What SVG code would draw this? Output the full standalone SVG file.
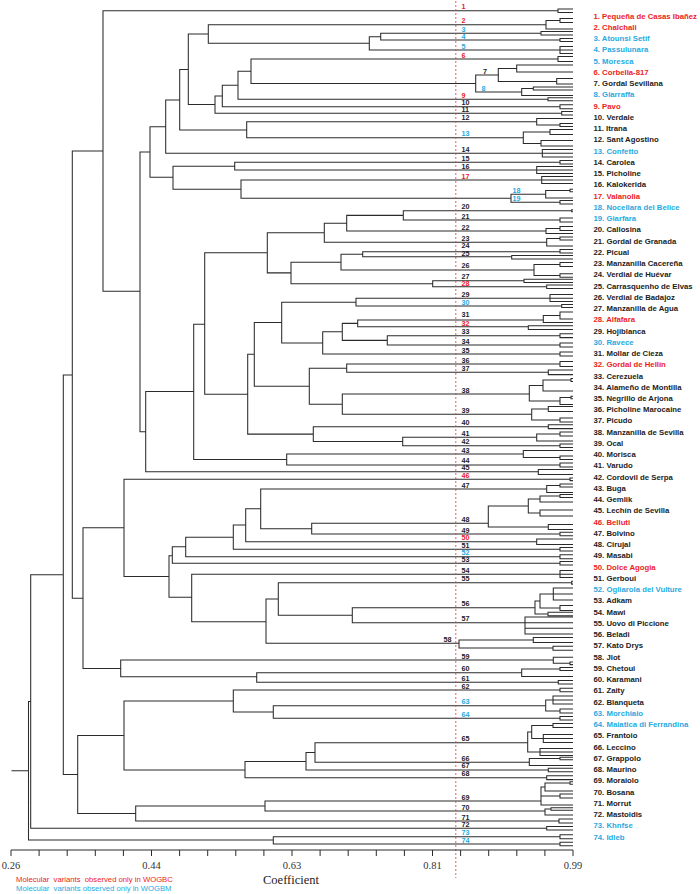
<svg xmlns="http://www.w3.org/2000/svg" width="700" height="894" viewBox="0 0 700 894">
<style>
.t{fill:none;stroke:#2b2b2b;stroke-width:1.05}
.ax{fill:none;stroke:#2b2b2b;stroke-width:1}
.cut{fill:none;stroke:#e8333a;stroke-width:0.8;stroke-dasharray:2 2}
text{font-family:"Liberation Sans",Arial,sans-serif}
.n{font-size:7.2px;font-weight:bold}
.l{font-size:7.75px;font-weight:bold}
.k{fill:#1c1c1c}
.r{fill:#ec1c24}
.b{fill:#27aae1}
.tk{font-family:"Liberation Serif","Times New Roman",serif;font-size:10.5px;fill:#333;text-anchor:middle}
.co{font-family:"Liberation Serif","Times New Roman",serif;font-size:12.5px;fill:#222;text-anchor:middle}
.lg{font-size:7.7px;white-space:pre}
</style>
<rect width="700" height="894" fill="#ffffff"/>
<g id="connectors">
<path class="t" d="M11.5 770.75H28.5M30.7 701.5H28.5V840H273.3M560 836.7H273.3V844H560M63.3 574.75H30.7V828.3H546.7M72.3 375H63.3V774.5H77.7M124 735.5H77.7V813.5H135.7M233.3 701H124V770H245M560 690H233.3V712H273.3M545.7 705.7H273.3V718.3H560M306 761.4H245V777.7H546.7M315 752.5H306V770H548.3M527.7 742.7H315V762.3H529.3M265 806H135.7V821H559M541 801H265V811H545M103 151H72.3V598.3H83M124 527.8H83V668.4H120.7M553.3 660H120.7V676.7H256.7M521.7 672.7H256.7V682.3H558.3M570 479.3H124V576.5H169M172.3 555.7H169V597.3H191.7M185.7 546.7H172.3V563.3H560M233.3 537.3H185.7V556.7H560M245.7 525H233.3V549.3H560M260.7 508.7H245.7V541.7H536.7M546.7 489H260.7V528.7H311.7M488.3 523.3H311.7V534H560M560 574.3H191.7V621.7H266M278.3 599H266V643.3H459M571.7 582.7H278.3V615.2H352.3M535 607.7H352.3V622.7H525M558 10.7H103V291.3H140M150 152H140V431.7H145.7M165.7 126.7H150V177.3H173M179.7 100H165.7V153.3H542.3M188.3 69.5H179.7V130H246.7M208.3 34H188.3V104.5H215M546 24.7H208.3V43.3H369.3M380.7 36.7H369.3V50H560M541 33.3H380.7V40H560M222.3 96H215V113.3H561.7M238 85.2H222.3V106.7H560M251 71.25H238V99.3H548M558 59H251V83.5H475.7M498.3 75H475.7V92H521.7M536.7 121.7H246.7V137.7H523.3M234.7 166.15H173V189.15H241M560 162.3H234.7V170H536.7M541.7 180H241V198.3H511M545.7 194.3H511V202.3H560M193.7 391.5H145.7V471.7H538.3M204.7 324.2H193.7V459.5H286.7M523.3 454H286.7V465H560M267.3 252.7H204.7V394.2H247.7M324.3 232.8H267.3V272.85H291M346.7 223.3H324.3V242.3H546.7M403.3 215.35H346.7V231H546M571.7 210.7H403.3V220H560M341 262.15H291V283.7H432.7M362.7 254.2H341V270H534M560 251.7H362.7V256.7H511.7M524 280.7H432.7V286.7H546.7M254.3 354.15H247.7V434.1H313.3M281.7 322.5H254.3V386.15H309.3M356 302.15H281.7V343H322.7M550 298.3H356V306H561.7M342.3 331.8H322.7V354H560M357.7 323.35H342.3V340.35H387.3M543.3 320H357.7V326.7H528.3M560 335.7H387.3V345H560M346.7 368.15H309.3V404.15H342.3M560 364H346.7V372.3H548.3M529.3 394H342.3V414.3H531.7M548.3 426.7H313.3V441.5H402.7M536.7 437.3H402.7V445.7H560"/>
<path class="t" d="M573 9H558V12.5H573M560 20.5H546V29H573M573 18.5H560V22.5H573M573 31.5H541V35H573M573 38.5H560V41.5H573M573 46.5H560V53.5H573M560 50H573M573 56.5H558V61.5H573M516.7 68.5H498.3V81.5H556.7M573 65H516.7V72H573M573 78.5H556.7V84H573M533.3 88.5H521.7V95.5H573M573 87H533.3V90H573M573 97.8H548V100.8H573M573 104.7H560V108.7H573M573 111.5H561.7V115H573M573 118.5H536.7V125H560M573 123.5H560V126.5H573M550 132H523.3V143.4H541M573 129.5H550V134.5H573M573 140.5H541V146H573M573 149.5H542.3V157H573M542.3 153.3H573M573 160.5H560V164H573M573 166.5H536.7V173.5H573M536.7 170H573M573 176.5H541.7V183.5H573M541.7 180H573M570 190.5H545.7V198H573M573 189.2H570V191.8H573M573 200.5H560V204H573M573 209.7H571.7V211.7H573M573 218H560V222H573M560 228.5H546V233.5H573M573 226.5H560V230.5H573M560 238.5H546.7V246H573M573 237H560V240H573M573 249.5H560V253H573M573 255.5H511.7V259H573M560 264.5H534V275.5H560M573 262.5H560V266.5H573M573 273.8H560V277.2H573M573 279.2H524V282.4H573M573 285H546.7V288.5H573M573 294.5H550V301.5H573M550 298.3H573M573 304.5H561.7V307.5H573M560 315.5H543.3V322.5H573M573 312H560V319H573M573 325.8H528.3V329.5H573M573 333.8H560V337.6H573M573 343H560V347H573M573 352H560V356H573M573 361.5H560V366.5H573M573 370H548.3V374.6H573M543 385.5H529.3V401H560M571 380H543V391H573M573 378.5H571V381.5H573M571 397.5H560V404.5H573M573 396.3H571V398.7H573M548.3 409H531.7V420H560M573 406.5H548.3V411.5H573M573 418H560V422H573M573 424.8H548.3V428.6H573M560 434H536.7V441H573M573 432H560V436H573M573 444H560V447.4H573M573 450.5H523.3V457.5H560M573 456H560V459.5H573M573 463H560V467H573M573 469.5H538.3V474.5H573M573 478H570V480.6H573M560 485.5H546.7V492.5H573M573 484H560V487H573M528.3 506H488.3V527H548.3M540 499H528.3V513H540M560 496H540V502H573M573 494.5H560V497.5H573M573 510H540V516H573M573 524.5H548.3V529.5H573M573 532.3H560V535.7H573M573 539H536.7V544.5H573M573 547.5H560V551H573M573 554.7H560V558.7H573M573 561.5H560V565H573M573 570.5H560V577.5H573M560 574.3H573M573 581.3H571.7V584.1H573M540 601H535V614H548M553.3 594H540V608H560M573 588H553.3V600H573M553.3 594H573M573 605.5H560V610.5H573M573 612.3H548V615.7H573M573 617H525V634H573M525 622.7H573M525 628.3H573M533.3 640H459V648H553M573 637.5H533.3V642.5H573M573 646.3H553V650.3H573M573 657.3H553.3V663.3H570M573 662H570V664.6H573M560 669H521.7V676.5H573M573 667.5H560V670.5H573M573 680.5H558.3V684H573M573 688.3H560V691.7H573M553 700H545.7V711H560M573 696H553V704H573M553 700H573M573 709H560V713H573M573 716.5H560V720H573M531.7 732H527.7V752H540M553 725.5H531.7V738.5H543.3M573 723.5H553V727.5H573M573 734.5H543.3V742.5H573M543.3 738.5H573M573 748.5H540V755.5H573M540 752H573M560 758.5H529.3V765.5H573M573 757.2H560V759.8H573M573 768.3H548.3V771.7H573M573 775.8H546.7V779.6H573M545 787H541V805H573M541 796H560M570 783H545V791H573M573 781.7H570V784.3H573M573 794H560V798H573M551 809H545V815H573M573 807.7H551V810.3H573M573 819H559V823H573M573 826.5H546.7V830H573M573 834.7H560V838.7H573M573 842.3H560V845.7H573"/>
</g>
<line class="cut" x1="455.8" y1="1" x2="455.8" y2="878"/>
<g id="axis">
<path class="ax" d="M11 850H573M11 850V856M39.1 850V856M67.2 850V856M95.3 850V856M123.4 850V856M151.5 850V856M179.6 850V856M207.7 850V856M235.8 850V856M263.9 850V856M292 850V856M320.1 850V856M348.2 850V856M376.3 850V856M404.4 850V856M432.5 850V856M460.6 850V856M488.7 850V856M516.8 850V856M544.9 850V856M573 850V856"/>
<text class="tk" x="11" y="869">0.26</text>
<text class="tk" x="151.5" y="869">0.44</text>
<text class="tk" x="292" y="869">0.63</text>
<text class="tk" x="432.5" y="869">0.81</text>
<text class="tk" x="573" y="869">0.99</text>
<text class="co" x="291" y="884">Coefficient</text>
</g>
<g id="key">
<text class="lg r" x="16" y="882">Molecular  variants  observed only in WOGBC</text>
<text class="lg b" x="16" y="891">Molecular  variants observed only in WOGBM</text>
</g>
<g id="acc-1" class="r"><text class="n" x="461.5" y="9.2">1</text><text class="l" x="593.5" y="18.6">1. Pequeña de Casas Ibañez</text></g>
<g id="acc-2" class="r"><text class="n" x="461.5" y="23.2">2</text><text class="l" x="593.5" y="29.85">2. Chalchali</text></g>
<g id="acc-3" class="b"><text class="n" x="461.5" y="31.8">3</text><text class="l" x="593.5" y="41.09">3. Atounsi Setif</text></g>
<g id="acc-4" class="b"><text class="n" x="461.5" y="38.8">4</text><text class="l" x="593.5" y="52.34">4. Passulunara</text></g>
<g id="acc-5" class="b"><text class="n" x="461.5" y="48.5">5</text><text class="l" x="593.5" y="63.59">5. Moresca</text></g>
<g id="acc-6" class="r"><text class="n" x="461.5" y="57.5">6</text><text class="l" x="593.5" y="74.84">6. Corbella-817</text></g>
<g id="acc-7" class="k"><text class="n" x="483" y="73.5">7</text><text class="l" x="593.5" y="86.08">7. Gordal Sevillana</text></g>
<g id="acc-8" class="b"><text class="n" x="481.5" y="90.5">8</text><text class="l" x="593.5" y="97.33">8. Giarraffa</text></g>
<g id="acc-9" class="r"><text class="n" x="461.5" y="97.6">9</text><text class="l" x="593.5" y="108.58">9. Pavo</text></g>
<g id="acc-10" class="k"><text class="n" x="461.5" y="105.2">10</text><text class="l" x="593.5" y="119.82">10. Verdale</text></g>
<g id="acc-11" class="k"><text class="n" x="461.5" y="112">11</text><text class="l" x="593.5" y="131.07">11. Itrana</text></g>
<g id="acc-12" class="k"><text class="n" x="461.5" y="120.2">12</text><text class="l" x="593.5" y="142.32">12. Sant Agostino</text></g>
<g id="acc-13" class="b"><text class="n" x="461.5" y="136.2">13</text><text class="l" x="593.5" y="153.56">13. Confetto</text></g>
<g id="acc-14" class="k"><text class="n" x="461.5" y="151.8">14</text><text class="l" x="593.5" y="164.81">14. Carolea</text></g>
<g id="acc-15" class="k"><text class="n" x="461.5" y="160.6">15</text><text class="l" x="593.5" y="176.06">15. Picholine</text></g>
<g id="acc-16" class="k"><text class="n" x="461.5" y="168.6">16</text><text class="l" x="593.5" y="187.31">16. Kalokerida</text></g>
<g id="acc-17" class="r"><text class="n" x="461.5" y="178.5">17</text><text class="l" x="593.5" y="198.55">17. Valanolia</text></g>
<g id="acc-18" class="b"><text class="n" x="512.5" y="192.6">18</text><text class="l" x="593.5" y="209.8">18. Nocellara del Belice</text></g>
<g id="acc-19" class="b"><text class="n" x="512.5" y="201">19</text><text class="l" x="593.5" y="221.05">19. Giarfara</text></g>
<g id="acc-20" class="k"><text class="n" x="461.5" y="209">20</text><text class="l" x="593.5" y="232.29">20. Callosina</text></g>
<g id="acc-21" class="k"><text class="n" x="461.5" y="218.5">21</text><text class="l" x="593.5" y="243.54">21. Gordal de Granada</text></g>
<g id="acc-22" class="k"><text class="n" x="461.5" y="229.5">22</text><text class="l" x="593.5" y="254.79">22. Picual</text></g>
<g id="acc-23" class="k"><text class="n" x="461.5" y="240.8">23</text><text class="l" x="593.5" y="266.03">23. Manzanilla Cacereña</text></g>
<g id="acc-24" class="k"><text class="n" x="461.5" y="248">24</text><text class="l" x="593.5" y="277.28">24. Verdial de Huévar</text></g>
<g id="acc-25" class="k"><text class="n" x="461.5" y="256.2">25</text><text class="l" x="593.5" y="288.53">25. Carrasquenho de Elvas</text></g>
<g id="acc-26" class="k"><text class="n" x="461.5" y="268.2">26</text><text class="l" x="593.5" y="299.77">26. Verdial de Badajoz</text></g>
<g id="acc-27" class="k"><text class="n" x="461.5" y="278.6">27</text><text class="l" x="593.5" y="311.02">27. Manzanilla de Agua</text></g>
<g id="acc-28" class="r"><text class="n" x="461.5" y="286.2">28</text><text class="l" x="593.5" y="322.27">28. Alfafara</text></g>
<g id="acc-29" class="k"><text class="n" x="461.5" y="296.6">29</text><text class="l" x="593.5" y="333.52">29. Hojiblanca</text></g>
<g id="acc-30" class="b"><text class="n" x="461.5" y="304.6">30</text><text class="l" x="593.5" y="344.76">30. Ravece</text></g>
<g id="acc-31" class="k"><text class="n" x="461.5" y="317.4">31</text><text class="l" x="593.5" y="356.01">31. Mollar de Cieza</text></g>
<g id="acc-32" class="r"><text class="n" x="461.5" y="325.8">32</text><text class="l" x="593.5" y="367.26">32. Gordal de Hellín</text></g>
<g id="acc-33" class="k"><text class="n" x="461.5" y="334.3">33</text><text class="l" x="593.5" y="378.5">33. Cerezuela</text></g>
<g id="acc-34" class="k"><text class="n" x="461.5" y="343.8">34</text><text class="l" x="593.5" y="389.75">34. Alameño de Montilla</text></g>
<g id="acc-35" class="k"><text class="n" x="461.5" y="352.6">35</text><text class="l" x="593.5" y="401">35. Negrillo de Arjona</text></g>
<g id="acc-36" class="k"><text class="n" x="461.5" y="362.5">36</text><text class="l" x="593.5" y="412.24">36. Picholine Marocaine</text></g>
<g id="acc-37" class="k"><text class="n" x="461.5" y="370.9">37</text><text class="l" x="593.5" y="423.49">37. Picudo</text></g>
<g id="acc-38" class="k"><text class="n" x="461.5" y="392.5">38</text><text class="l" x="593.5" y="434.74">38. Manzanilla de Sevilla</text></g>
<g id="acc-39" class="k"><text class="n" x="461.5" y="412.8">39</text><text class="l" x="593.5" y="445.99">39. Ocal</text></g>
<g id="acc-40" class="k"><text class="n" x="461.5" y="425.2">40</text><text class="l" x="593.5" y="457.23">40. Morisca</text></g>
<g id="acc-41" class="k"><text class="n" x="461.5" y="435.8">41</text><text class="l" x="593.5" y="468.48">41. Varudo</text></g>
<g id="acc-42" class="k"><text class="n" x="461.5" y="444.2">42</text><text class="l" x="593.5" y="479.73">42. Cordovil de Serpa</text></g>
<g id="acc-43" class="k"><text class="n" x="461.5" y="452.5">43</text><text class="l" x="593.5" y="490.97">43. Buga</text></g>
<g id="acc-44" class="k"><text class="n" x="461.5" y="463.4">44</text><text class="l" x="593.5" y="502.22">44. Gemlik</text></g>
<g id="acc-45" class="k"><text class="n" x="461.5" y="470.2">45</text><text class="l" x="593.5" y="513.47">45. Lechín de Sevilla</text></g>
<g id="acc-46" class="r"><text class="n" x="461.5" y="478.2">46</text><text class="l" x="593.5" y="524.71">46. Belluti</text></g>
<g id="acc-47" class="k"><text class="n" x="461.5" y="487.6">47</text><text class="l" x="593.5" y="535.96">47. Bolvino</text></g>
<g id="acc-48" class="k"><text class="n" x="461.5" y="522">48</text><text class="l" x="593.5" y="547.21">48. Cirujal</text></g>
<g id="acc-49" class="k"><text class="n" x="461.5" y="532.6">49</text><text class="l" x="593.5" y="558.46">49. Masabi</text></g>
<g id="acc-50" class="r"><text class="n" x="461.5" y="540.2">50</text><text class="l" x="593.5" y="569.7">50. Dolce Agogia</text></g>
<g id="acc-51" class="k"><text class="n" x="461.5" y="547.7">51</text><text class="l" x="593.5" y="580.95">51. Gerboui</text></g>
<g id="acc-52" class="b"><text class="n" x="461.5" y="555.2">52</text><text class="l" x="593.5" y="592.2">52. Ogliarola del Vulture</text></g>
<g id="acc-53" class="k"><text class="n" x="461.5" y="562.4">53</text><text class="l" x="593.5" y="603.44">53. Adkam</text></g>
<g id="acc-54" class="k"><text class="n" x="461.5" y="572.8">54</text><text class="l" x="593.5" y="614.69">54. Mawi</text></g>
<g id="acc-55" class="k"><text class="n" x="461.5" y="581.4">55</text><text class="l" x="593.5" y="625.94">55. Uovo di Piccione</text></g>
<g id="acc-56" class="k"><text class="n" x="461.5" y="606.2">56</text><text class="l" x="593.5" y="637.18">56. Beladi</text></g>
<g id="acc-57" class="k"><text class="n" x="461.5" y="621.2">57</text><text class="l" x="593.5" y="648.43">57. Kato Drys</text></g>
<g id="acc-58" class="k"><text class="n" x="443.5" y="641.8">58</text><text class="l" x="593.5" y="659.68">58. Jlot</text></g>
<g id="acc-59" class="k"><text class="n" x="461.5" y="658.5">59</text><text class="l" x="593.5" y="670.92">59. Chetoui</text></g>
<g id="acc-60" class="k"><text class="n" x="461.5" y="671">60</text><text class="l" x="593.5" y="682.17">60. Karamani</text></g>
<g id="acc-61" class="k"><text class="n" x="461.5" y="680.6">61</text><text class="l" x="593.5" y="693.42">61. Zaity</text></g>
<g id="acc-62" class="k"><text class="n" x="461.5" y="688.6">62</text><text class="l" x="593.5" y="704.67">62. Blanqueta</text></g>
<g id="acc-63" class="b"><text class="n" x="461.5" y="704.2">63</text><text class="l" x="593.5" y="715.91">63. Morchiaio</text></g>
<g id="acc-64" class="b"><text class="n" x="461.5" y="716.8">64</text><text class="l" x="593.5" y="727.16">64. Maiatica di Ferrandina</text></g>
<g id="acc-65" class="k"><text class="n" x="461.5" y="741.2">65</text><text class="l" x="593.5" y="738.41">65. Frantoio</text></g>
<g id="acc-66" class="k"><text class="n" x="461.5" y="760.8">66</text><text class="l" x="593.5" y="749.65">66. Leccino</text></g>
<g id="acc-67" class="k"><text class="n" x="461.5" y="768.4">67</text><text class="l" x="593.5" y="760.9">67. Grappolo</text></g>
<g id="acc-68" class="k"><text class="n" x="461.5" y="776.2">68</text><text class="l" x="593.5" y="772.15">68. Maurino</text></g>
<g id="acc-69" class="k"><text class="n" x="461.5" y="799.5">69</text><text class="l" x="593.5" y="783.39">69. Moraiolo</text></g>
<g id="acc-70" class="k"><text class="n" x="461.5" y="809.5">70</text><text class="l" x="593.5" y="794.64">70. Bosana</text></g>
<g id="acc-71" class="k"><text class="n" x="461.5" y="819.5">71</text><text class="l" x="593.5" y="805.89">71. Morrut</text></g>
<g id="acc-72" class="k"><text class="n" x="461.5" y="826.9">72</text><text class="l" x="593.5" y="817.14">72. Mastoidis</text></g>
<g id="acc-73" class="b"><text class="n" x="461.5" y="835">73</text><text class="l" x="593.5" y="828.38">73. Khnfse</text></g>
<g id="acc-74" class="b"><text class="n" x="461.5" y="842.8">74</text><text class="l" x="593.5" y="839.63">74. Idleb</text></g>
</svg>
